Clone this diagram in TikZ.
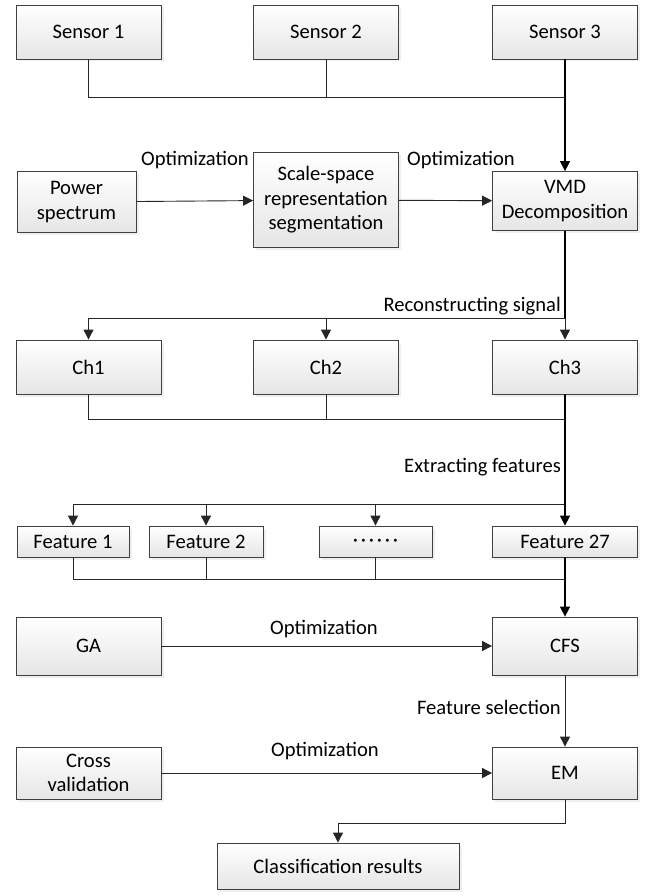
\documentclass[tikz,border=0pt]{standalone}
\usepackage{fontspec}
\setmainfont{Carlito}
\usetikzlibrary{arrows.meta,shadows}

\begin{document}
\begin{tikzpicture}[
  x=1pt, y=-1pt,
  font=\fontsize{20.6}{24.5}\selectfont,
  blk/.style={rectangle, draw=black!75, line width=0.8pt,
              top color=white, bottom color=black!10,
              drop shadow={shadow xshift=2.5pt, shadow yshift=-2.5pt, fill=black!12},
              minimum width=145pt, minimum height=54pt,
              align=center, inner sep=2pt},
  link/.style={line width=0.9pt, black!85},
  trunk/.style={line width=1.5pt, black},
  arrow/.style={-{Triangle[length=10pt,width=10pt]}},
  lbl/.style={inner sep=0pt}
]
\useasboundingbox (0,0) rectangle (648,896);

% sensors
\node[blk] (s1) at (88.5,32) {Sensor 1};
\node[blk] (s2) at (326,32) {Sensor 2};
\node[blk] (s3) at (565,32) {Sensor 3};

% decomposition
\node[blk, minimum width=119pt, minimum height=61pt] (pow) at (76.5,202) {Power\\spectrum};
\node[blk, minimum height=95pt] (ssr) at (326,200) {Scale-space\\representation\\segmentation};
\node[blk, minimum height=59pt] (vmd) at (565,201) {VMD\\Decomposition};

% channels
\node[blk] (ch1) at (88.5,367) {Ch1};
\node[blk] (ch2) at (326,367) {Ch2};
\node[blk] (ch3) at (565,367) {Ch3};

% features
\node[blk, minimum width=112pt, minimum height=31pt] (f1) at (73,541.5) {Feature 1};
\node[blk, minimum width=114pt, minimum height=31pt] (f2) at (206,541.5) {Feature 2};
\node[blk, minimum width=113pt, minimum height=31pt] (dots) at (375.5,541.5)
  {\raisebox{-5pt}[0pt][0pt]{·\kern2.8pt·\kern2.8pt·\kern2.8pt·\kern2.8pt·\kern2.8pt·}};
\node[blk, minimum height=31pt] (f27) at (565,541.5) {Feature 27};

% selection and classifier
\node[blk, minimum height=58pt] (ga) at (88.5,646) {GA};
\node[blk, minimum height=58pt] (cfs) at (565,646) {CFS};
\node[blk, minimum height=52pt] (cv) at (88.5,773) {Cross\\validation};
\node[blk, minimum height=52pt] (em) at (565,773) {EM};
\node[blk, minimum width=242pt, minimum height=46pt] (cls) at (338,866) {Classification results};

% labels
\node[lbl] (o1) at (195,160) {Optimization};
\node[lbl] (o2) at (461,160) {Optimization};
\node[lbl, anchor=east] (rs) at (561,306) {Reconstructing signal};
\node[lbl, anchor=east] (ef) at (561,467) {Extracting features};
\node[lbl] (o3) at (324,629) {Optimization};
\node[lbl, anchor=east] (fs) at (561,707) {Feature selection};
\node[lbl] (o4) at (325,751) {Optimization};

% junctions
\coordinate (j1) at (565,97);
\coordinate (j2) at (565,318);
\coordinate (j3) at (565,419);
\coordinate (j4) at (565,504);
\coordinate (j5) at (565,579);
\coordinate (j6) at (565,823);

\draw[link] (s1.south) |- (j1);
\draw[link] (s2.south) -- (s2 |- j1);
\draw[trunk, arrow] (s3) -- (vmd);

\draw[link, arrow] (pow) -- (ssr);
\draw[link, arrow] (ssr) -- (vmd);

\draw[trunk] (vmd) -- (j2);
\draw[link, arrow] (j2) -| (ch1.north);
\draw[link, arrow] (ch2 |- j2) -- (ch2);
\draw[link, arrow] (j2) -- (ch3);

\draw[link] (ch1.south) |- (j3);
\draw[link] (ch2.south) -- (ch2 |- j3);
\draw[trunk] (ch3) -- (j4);
\draw[link, arrow] (j4) -| (f1.north);
\draw[link, arrow] (f2 |- j4) -- (f2);
\draw[link, arrow] (dots |- j4) -- (dots);
\draw[trunk, arrow] (j4) -- (f27);

\draw[link] (f1.south) |- (j5);
\draw[link] (f2.south) -- (f2 |- j5);
\draw[link] (dots.south) -- (dots |- j5);
\draw[trunk, arrow] (f27) -- (cfs);

\draw[link, arrow] (ga) -- (cfs);
\draw[link, arrow] (cfs) -- (em);
\draw[link, arrow] (cv) -- (em);
\draw[link, arrow] (em) -- (j6) -| (cls.north);
\end{tikzpicture}
\end{document}
